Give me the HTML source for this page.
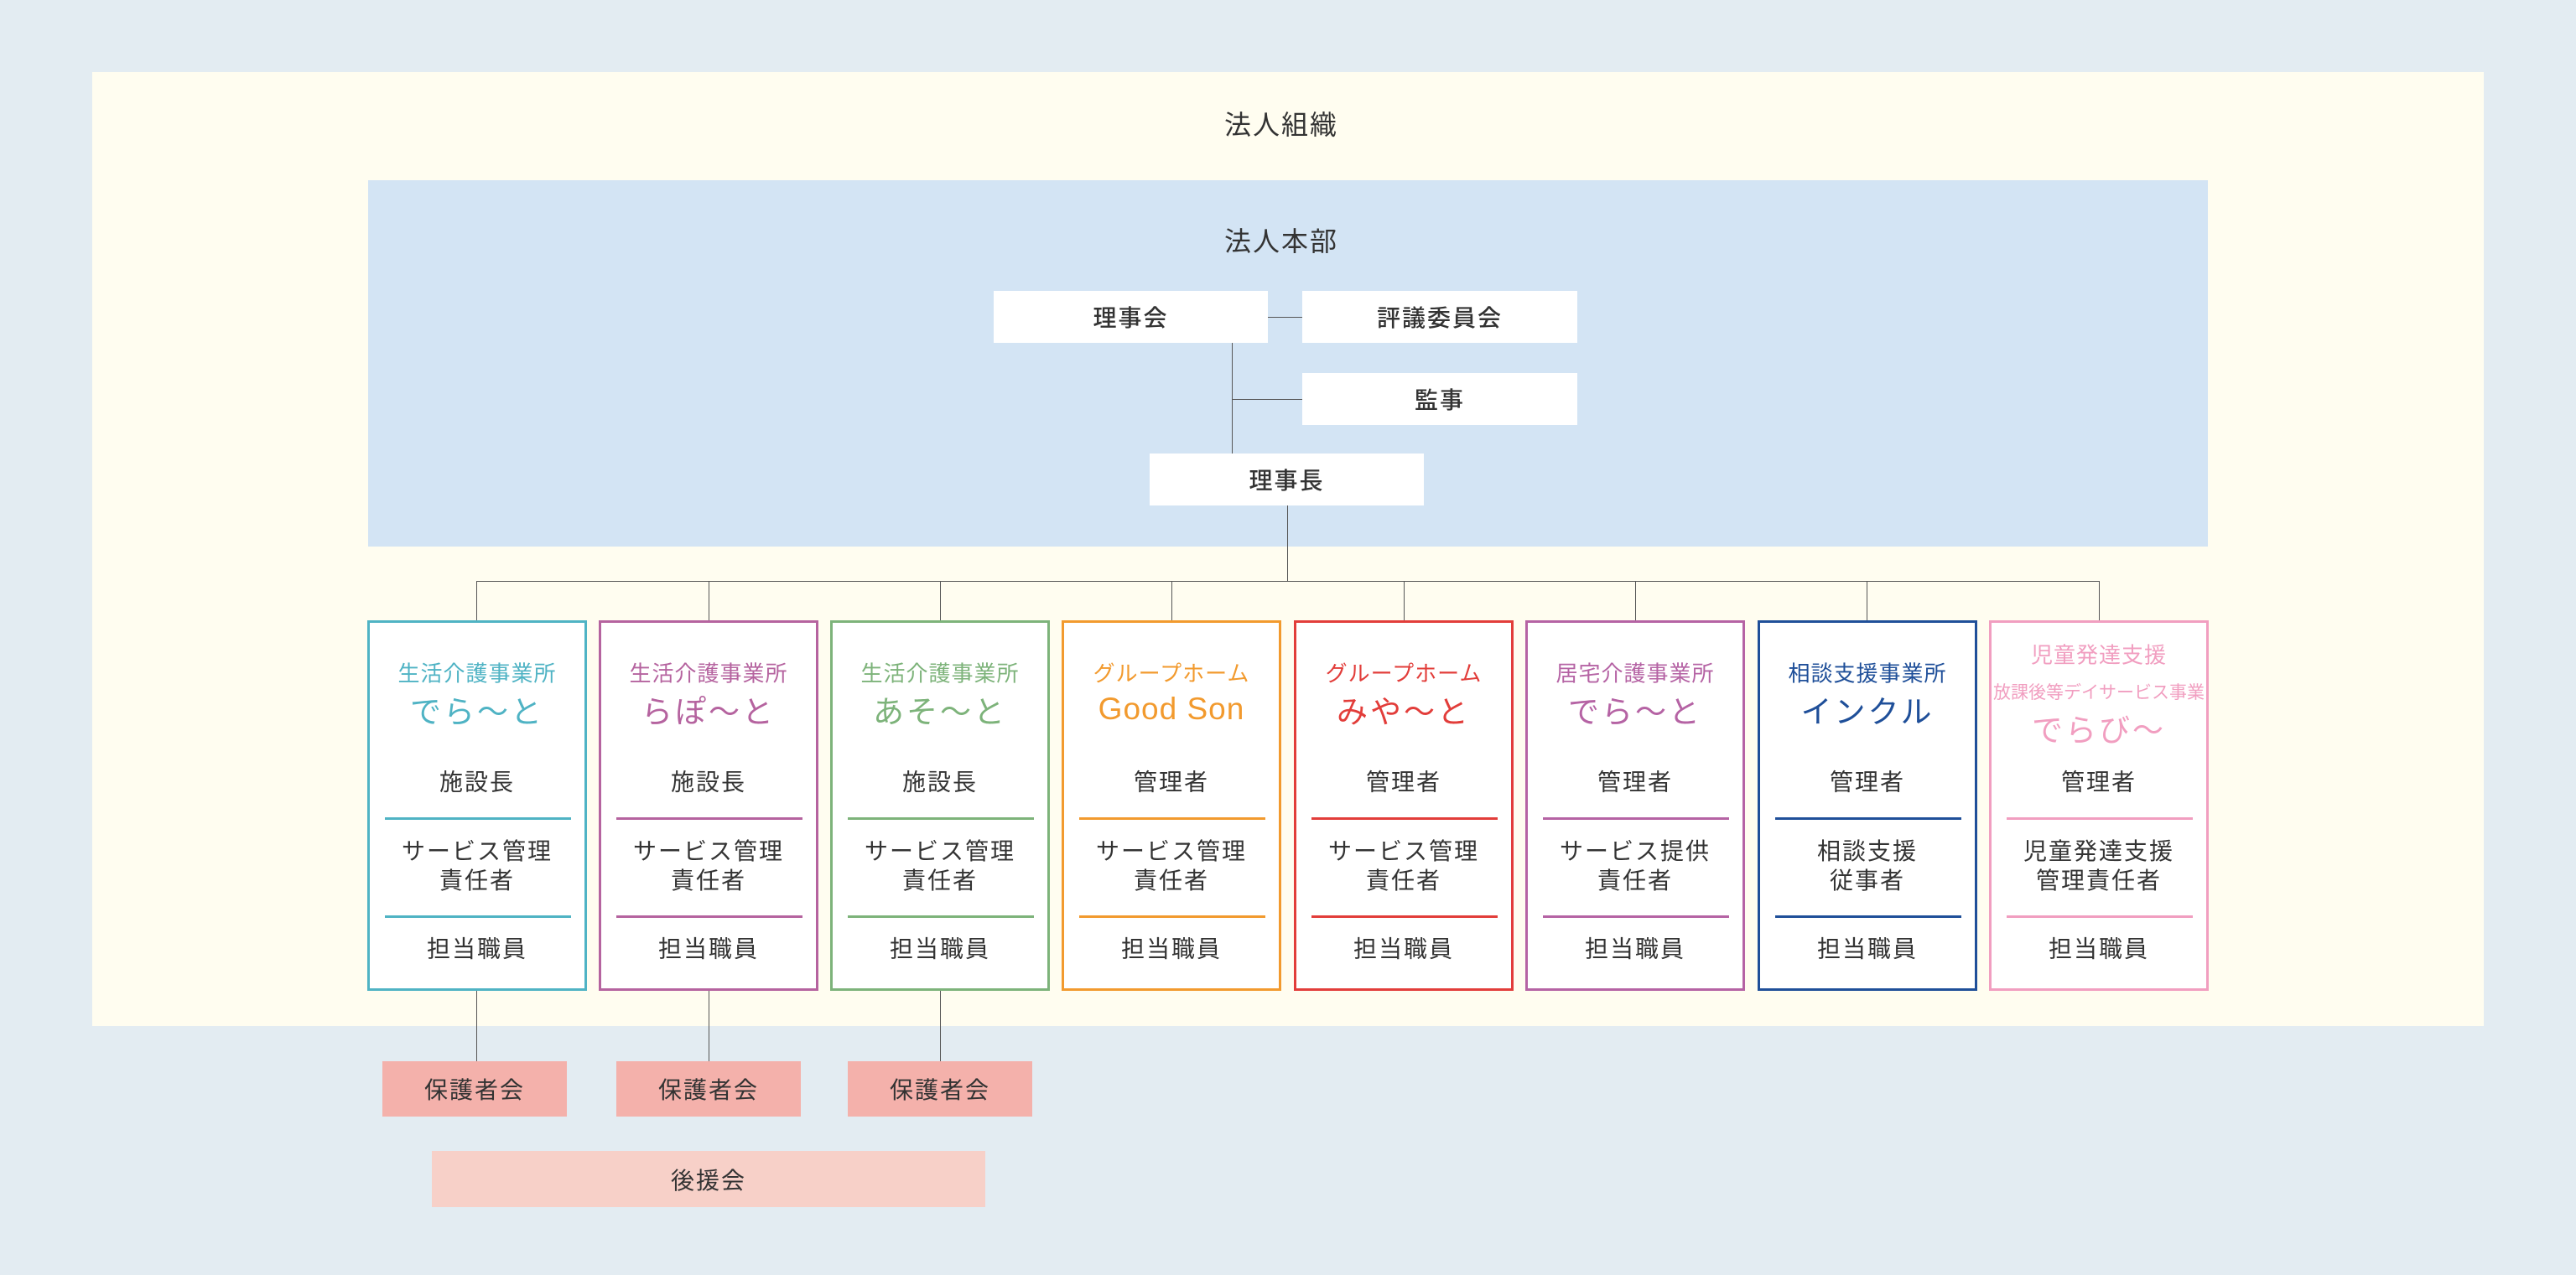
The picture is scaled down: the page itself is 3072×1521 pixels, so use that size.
<!DOCTYPE html>
<html><head><meta charset="utf-8"><style>
*{margin:0;padding:0;box-sizing:border-box}
body{width:3072px;height:1521px;background:#e3ecf2;position:relative;overflow:hidden;font-family:"Liberation Sans","Noto Sans CJK JP",sans-serif;color:#333}
.a{position:absolute}
.t{position:absolute;text-align:center;white-space:nowrap;transform:translate(-50%,-50%)}
.wb{position:absolute;background:#fff;display:flex;align-items:center;justify-content:center;font-size:28px;letter-spacing:2px;font-weight:500}
.ln{position:absolute;background:#555}
.card{position:absolute;top:740px;width:262px;height:442px;background:#fff;border:3px solid}
.card .t{left:128px}
.hd{font-size:26px;letter-spacing:1px}
.nm{font-size:37px;letter-spacing:3px}
.it{font-size:28px;letter-spacing:2px;line-height:35px}
.dv{position:absolute;left:18px;width:222px;height:3px}
.pk{position:absolute;background:#f4b1ab;display:flex;align-items:center;justify-content:center;font-size:28px;letter-spacing:2px;top:1266px;height:66px;width:220px}
</style></head><body>
<div class="a" style="left:110px;top:86px;width:2852px;height:1138px;background:#fffdf0"></div>
<div class="t" style="left:1528px;top:147px;font-size:32px;letter-spacing:2px">法人組織</div>
<div class="a" style="left:439px;top:215px;width:2194px;height:437px;background:#d3e4f4"></div>
<div class="t" style="left:1528px;top:286px;font-size:32px;letter-spacing:2px">法人本部</div>

<div class="ln" style="left:1512px;top:378px;width:41px;height:1px"></div>
<div class="ln" style="left:1469px;top:409px;width:1px;height:132px"></div>
<div class="ln" style="left:1469px;top:476px;width:84px;height:1px"></div>
<div class="ln" style="left:1535px;top:603px;width:1px;height:90px"></div>
<div class="ln" style="left:568px;top:693px;width:1936px;height:1px"></div>

<div class="wb" style="left:1185px;top:347px;width:327px;height:62px">理事会</div>
<div class="wb" style="left:1553px;top:347px;width:328px;height:62px">評議委員会</div>
<div class="wb" style="left:1553px;top:445px;width:328px;height:62px">監事</div>
<div class="wb" style="left:1371px;top:541px;width:327px;height:62px">理事長</div>

<div class="ln" style="left:568px;top:693px;width:1px;height:48px"></div>
<div class="ln" style="left:845px;top:693px;width:1px;height:48px"></div>
<div class="ln" style="left:1121px;top:693px;width:1px;height:48px"></div>
<div class="ln" style="left:1397px;top:693px;width:1px;height:48px"></div>
<div class="ln" style="left:1674px;top:693px;width:1px;height:48px"></div>
<div class="ln" style="left:1950px;top:693px;width:1px;height:48px"></div>
<div class="ln" style="left:2226px;top:693px;width:1px;height:48px"></div>
<div class="ln" style="left:2503px;top:693px;width:1px;height:48px"></div>

<div class="ln" style="left:568px;top:1181px;width:1px;height:85px"></div>
<div class="ln" style="left:845px;top:1181px;width:1px;height:85px"></div>
<div class="ln" style="left:1121px;top:1181px;width:1px;height:85px"></div>

<!-- card 1 -->
<div class="card" style="left:438px;border-color:#4fb3c4">
<div class="t hd" style="top:59px;color:#4fb3c4">生活介護事業所</div>
<div class="t nm" style="top:103px;color:#4fb3c4">でら～と</div>
<div class="t it" style="top:190px">施設長</div>
<div class="dv" style="top:232px;background:#4fb3c4"></div>
<div class="t it" style="top:290px">サービス管理<br>責任者</div>
<div class="dv" style="top:349px;background:#4fb3c4"></div>
<div class="t it" style="top:389px">担当職員</div>
</div>
<!-- card 2 -->
<div class="card" style="left:714px;border-color:#b5639f">
<div class="t hd" style="top:59px;color:#b5639f">生活介護事業所</div>
<div class="t nm" style="top:103px;color:#b5639f">らぽ～と</div>
<div class="t it" style="top:190px">施設長</div>
<div class="dv" style="top:232px;background:#b5639f"></div>
<div class="t it" style="top:290px">サービス管理<br>責任者</div>
<div class="dv" style="top:349px;background:#b5639f"></div>
<div class="t it" style="top:389px">担当職員</div>
</div>
<!-- card 3 -->
<div class="card" style="left:990px;border-color:#7db37a">
<div class="t hd" style="top:59px;color:#7db37a">生活介護事業所</div>
<div class="t nm" style="top:103px;color:#7db37a">あそ～と</div>
<div class="t it" style="top:190px">施設長</div>
<div class="dv" style="top:232px;background:#7db37a"></div>
<div class="t it" style="top:290px">サービス管理<br>責任者</div>
<div class="dv" style="top:349px;background:#7db37a"></div>
<div class="t it" style="top:389px">担当職員</div>
</div>
<!-- card 4 -->
<div class="card" style="left:1266px;border-color:#f29a2e">
<div class="t hd" style="top:59px;color:#f29a2e">グループホーム</div>
<div class="t nm" style="top:103px;color:#f29a2e;letter-spacing:1px">Good Son</div>
<div class="t it" style="top:190px">管理者</div>
<div class="dv" style="top:232px;background:#f29a2e"></div>
<div class="t it" style="top:290px">サービス管理<br>責任者</div>
<div class="dv" style="top:349px;background:#f29a2e"></div>
<div class="t it" style="top:389px">担当職員</div>
</div>
<!-- card 5 -->
<div class="card" style="left:1543px;border-color:#e23d3a">
<div class="t hd" style="top:59px;color:#e23d3a">グループホーム</div>
<div class="t nm" style="top:103px;color:#e23d3a">みや～と</div>
<div class="t it" style="top:190px">管理者</div>
<div class="dv" style="top:232px;background:#e23d3a"></div>
<div class="t it" style="top:290px">サービス管理<br>責任者</div>
<div class="dv" style="top:349px;background:#e23d3a"></div>
<div class="t it" style="top:389px">担当職員</div>
</div>
<!-- card 6 -->
<div class="card" style="left:1819px;border-color:#b563a4">
<div class="t hd" style="top:59px;color:#b563a4">居宅介護事業所</div>
<div class="t nm" style="top:103px;color:#b563a4">でら～と</div>
<div class="t it" style="top:190px">管理者</div>
<div class="dv" style="top:232px;background:#b563a4"></div>
<div class="t it" style="top:290px">サービス提供<br>責任者</div>
<div class="dv" style="top:349px;background:#b563a4"></div>
<div class="t it" style="top:389px">担当職員</div>
</div>
<!-- card 7 -->
<div class="card" style="left:2096px;border-color:#1f4f99">
<div class="t hd" style="top:59px;color:#1f4f99">相談支援事業所</div>
<div class="t nm" style="top:103px;color:#1f4f99">インクル</div>
<div class="t it" style="top:190px">管理者</div>
<div class="dv" style="top:232px;background:#1f4f99"></div>
<div class="t it" style="top:290px">相談支援<br>従事者</div>
<div class="dv" style="top:349px;background:#1f4f99"></div>
<div class="t it" style="top:389px">担当職員</div>
</div>
<!-- card 8 -->
<div class="card" style="left:2372px;border-color:#f19ec0">
<div class="t hd" style="top:37px;color:#f19ec0">児童発達支援</div>
<div class="t" style="top:82px;color:#f19ec0;font-size:21px">放課後等デイサービス事業</div>
<div class="t nm" style="top:125px;color:#f19ec0">でらび～</div>
<div class="t it" style="top:190px">管理者</div>
<div class="dv" style="top:232px;background:#f19ec0"></div>
<div class="t it" style="top:290px">児童発達支援<br>管理責任者</div>
<div class="dv" style="top:349px;background:#f19ec0"></div>
<div class="t it" style="top:389px">担当職員</div>
</div>

<div class="pk" style="left:456px">保護者会</div>
<div class="pk" style="left:735px">保護者会</div>
<div class="pk" style="left:1011px">保護者会</div>
<div class="pk" style="left:515px;top:1373px;width:660px;height:67px;background:#f7d0c8">後援会</div>
</body></html>
